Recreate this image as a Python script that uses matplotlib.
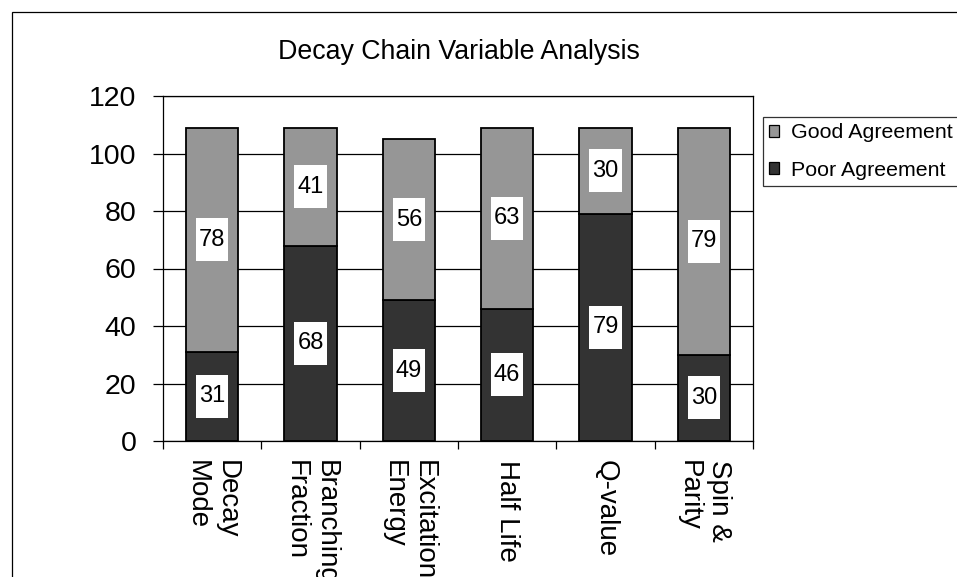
import matplotlib
matplotlib.use("Agg")
import matplotlib.pyplot as plt
from matplotlib.patches import Rectangle
import numpy as np

plt.rcParams['font.family'] = ['Liberation Sans', 'DejaVu Sans']

categories = ["Decay\nMode", "Branching\nFraction", "Excitation\nEnergy",
              "Half Life", "Q-value", "Spin &\nParity"]
poor = [31, 68, 49, 46, 79, 30]
good = [78, 41, 56, 63, 30, 79]
title = "Decay Chain Variable Analysis"
yticks = [0, 20, 40, 60, 80, 100, 120]

W, H = 957, 577
fig = plt.figure(figsize=(W / 100, H / 100), dpi=100)

# outer chart border
fig.patches.append(Rectangle((12 / W, -0.1), 1.2, 1.1 - 12 / H,
                             transform=fig.transFigure, fill=False,
                             ec='black', lw=0.9))

ax = fig.add_axes([163 / W, 136 / H, 590 / W, 345 / H])
x = np.arange(len(categories))
bw = 0.53
c_poor = '#333333'
c_good = '#969696'
b1 = ax.bar(x, poor, bw, color=c_poor, edgecolor='black', lw=1.3, zorder=3,
            label='Poor Agreement')
b2 = ax.bar(x, good, bw, bottom=poor, color=c_good, edgecolor='black', lw=1.3,
            zorder=3, label='Good Agreement')

ax.set_xlim(-0.5, len(categories) - 0.5)
ax.set_ylim(0, 120)
ax.set_yticks(yticks)
ax.yaxis.grid(True, color='black', lw=0.9, zorder=0)
ax.set_axisbelow(True)
ax.tick_params(axis='y', labelsize=20.5, length=7.2, width=0.9, pad=12,
               direction='out')
ax.set_xticks(x)
ax.set_xticklabels(categories, rotation=270, fontsize=20, va='top',
                   ha='center', multialignment='left')
ax.tick_params(axis='x', length=0, pad=14)
ax.set_xticks(np.arange(-0.5, len(categories)), minor=True)
ax.tick_params(axis='x', which='minor', length=6, width=0.9, direction='out')
for s in ax.spines.values():
    s.set_linewidth(0.9)

# data labels with white boxes
box_w, box_h = 0.33, 15
for xi, p, g in zip(x, poor, good):
    for val, yc in ((p, p / 2), (g, p + g / 2)):
        ax.add_patch(Rectangle((xi - box_w / 2, yc - box_h / 2), box_w, box_h,
                               fc='white', ec='none', zorder=4))
        ax.text(xi, yc, str(val), ha='center', va='center', fontsize=17,
                zorder=5)

fig.text(459 / W, 1 - 59 / H, title, ha='center', va='baseline', fontsize=19.3)

leg = fig.legend(handles=[b2, b1], labels=['Good Agreement', 'Poor Agreement'],
                 loc='upper left', bbox_to_anchor=(763 / W, 1 - 117 / H),
                 fontsize=15.4, frameon=True, fancybox=False, shadow=False,
                 handlelength=0.45, handleheight=0.45, handletextpad=0.55,
                 borderpad=0.3, labelspacing=0.85, borderaxespad=0)
leg.get_frame().set_edgecolor('black')
leg.get_frame().set_linewidth(0.9)
for h in leg.legend_handles:
    h.set_linewidth(0.9)

fig.savefig('out.png', dpi=100)
